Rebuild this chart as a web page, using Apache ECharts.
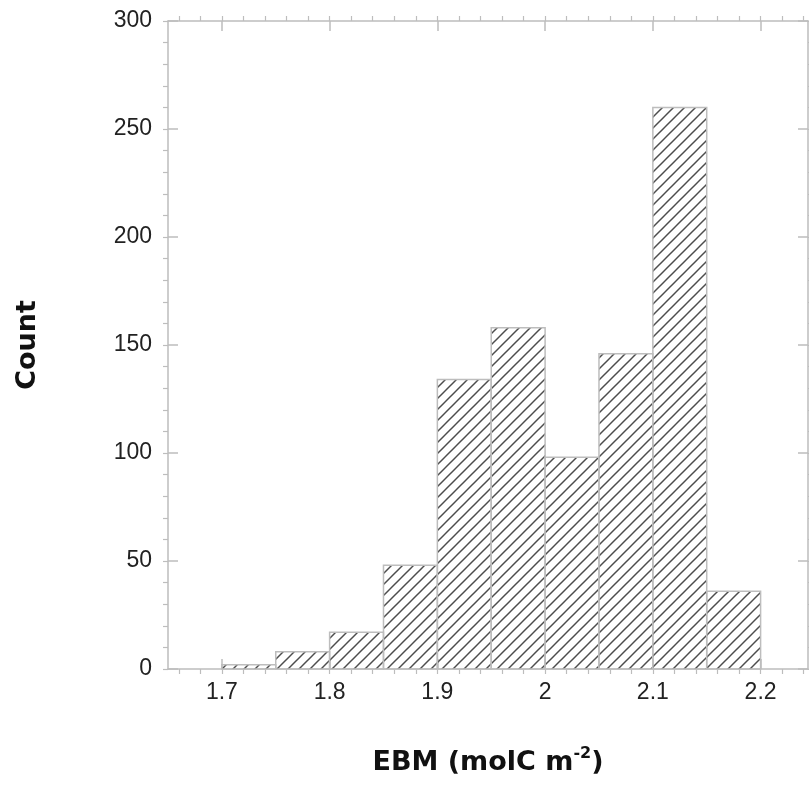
<!DOCTYPE html>
<html>
<head>
<meta charset="utf-8">
<script src="https://cdn.jsdelivr.net/npm/echarts@6/dist/echarts.min.js"></script>
<style>
  html, body { margin: 0; padding: 0; background: #fff; }
  #chart { width: 809px; height: 786px; }
</style>
</head>
<body>
<div id="chart"></div>
<script>
// histogram bins (left edge, right edge) and counts
var binStart = [1.70, 1.75, 1.80, 1.85, 1.90, 1.95, 2.00, 2.05, 2.10, 2.15];
var binEnd   = [1.75, 1.80, 1.85, 1.90, 1.95, 2.00, 2.05, 2.10, 2.15, 2.20];
var counts   = [2, 8, 17, 48, 134, 158, 98, 146, 260, 36];

var xTickLabels = [1.7, 1.8, 1.9, 2.0, 2.1, 2.2];
var yTickLabels = [0, 50, 100, 150, 200, 250, 300];

var xMin = 1.65, xMax = 2.244;
var yMin = 0, yMax = 300;

// minor tick positions
var xMinor = [];
for (var i = 0; i <= 29; i++) xMinor.push(Math.round((1.66 + i * 0.02) * 100) / 100);
var yMinor = [];
for (var j = 0; j <= 30; j++) yMinor.push(j * 10);

var frameColor = '#bdbdbd';

// hatch pattern "/"
function hatch() {
    var c = document.createElement('canvas');
    var s = 11;
    c.width = s; c.height = s;
    var g = c.getContext('2d');
    g.strokeStyle = '#4d4d4d';
    g.lineWidth = 1.5;
    [-s, 0, s].forEach(function (x0) {
        g.beginPath();
        g.moveTo(x0 - 1, s + 1);
        g.lineTo(x0 + s + 1, -1);
        g.stroke();
    });
    return c;
}
var pattern = { image: hatch(), repeat: 'repeat' };

var histData = [];
for (var k = 0; k < counts.length; k++) {
    histData.push([binStart[k], binEnd[k], counts[k]]);
}

function majorAxis(pos, isX, idx) {
    return {
        type: 'value',
        position: pos,
        min: isX ? xMin : yMin,
        max: isX ? xMax : yMax,
        axisLine: { show: true, onZero: false, lineStyle: { color: frameColor, width: 1.5 } },
        axisTick: {
            show: true, inside: true, length: 10,
            customValues: isX ? xTickLabels : yTickLabels,
            lineStyle: { color: frameColor, width: 1.5 }
        },
        axisLabel: {
            show: idx === 0,
            customValues: isX ? xTickLabels : yTickLabels,
            fontFamily: 'Liberation Sans, Arial, sans-serif',
            fontSize: 23,
            color: '#222',
            margin: isX ? 12 : 16,
            formatter: function (v) { return String(Math.round(v * 10) / 10); }
        },
        splitLine: { show: false }
    };
}
function minorAxis(pos, isX) {
    return {
        type: 'value',
        position: pos,
        min: isX ? xMin : yMin,
        max: isX ? xMax : yMax,
        axisLine: { show: false, onZero: false },
        axisTick: {
            show: true, inside: false, length: 5,
            customValues: isX ? xMinor : yMinor,
            lineStyle: { color: frameColor, width: 1.2 }
        },
        axisLabel: { show: false },
        splitLine: { show: false }
    };
}

var chart = echarts.init(document.getElementById('chart'), null, { renderer: 'canvas' });

chart.setOption({
    animation: false,
    backgroundColor: '#fff',
    grid: { left: 168, right: 1, top: 21, bottom: 117, containLabel: false },
    xAxis: [
        majorAxis('bottom', true, 0),
        minorAxis('bottom', true),
        majorAxis('top', true, 1),
        minorAxis('top', true)
    ],
    yAxis: [
        majorAxis('left', false, 0),
        minorAxis('left', false),
        majorAxis('right', false, 1),
        minorAxis('right', false)
    ],
    graphic: [
        {
            type: 'text',
            x: 28,
            y: 345,
            rotation: Math.PI / 2,
            style: {
                text: 'Count',
                font: 'bold 27px "DejaVu Sans", sans-serif',
                fill: '#111',
                align: 'center',
                verticalAlign: 'middle'
            }
        },
        {
            type: 'text',
            x: 488,
            y: 763,
            style: {
                text: '{b|EBM (molC m}{s|-2}{b|)}',
                align: 'center',
                verticalAlign: 'middle',
                fill: '#111',
                rich: {
                    b: { font: 'bold 27px "DejaVu Sans", sans-serif', fill: '#111', height: 30 },
                    s: { font: 'bold 16px "DejaVu Sans", sans-serif', fill: '#111', padding: [0, 0, 18, 0], verticalAlign: 'top' }
                }
            }
        }
    ],
    series: [{
        type: 'custom',
        xAxisIndex: 0,
        yAxisIndex: 0,
        encode: { x: [0, 1], y: 2 },
        data: histData,
        renderItem: function (params, api) {
            var p0 = api.coord([api.value(0), api.value(2)]);
            var p1 = api.coord([api.value(1), 0]);
            return {
                type: 'rect',
                shape: { x: p0[0], y: p0[1], width: p1[0] - p0[0], height: p1[1] - p0[1] },
                style: { fill: pattern, stroke: frameColor, lineWidth: 1.5 }
            };
        }
    }]
});
</script>
</body>
</html>
